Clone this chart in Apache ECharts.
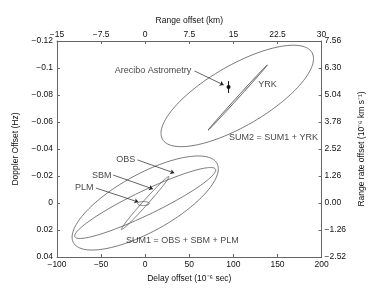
<!DOCTYPE html>
<html><head><meta charset="utf-8">
<script src="https://cdn.jsdelivr.net/npm/echarts@6/dist/echarts.min.js"></script>
<style>html,body{margin:0;padding:0;background:#fff}#c{width:374px;height:308px}</style>
</head><body><div id="c"></div>
<script>
// ---- axis ticks ----
const delayTicks = [-100, -50, 0, 50, 100, 150, 200];
const rangeTicks = [-15, -7.5, 0, 7.5, 15, 22.5, 30];
const dopplerTicks = [-0.12, -0.1, -0.08, -0.06, -0.04, -0.02, 0, 0.02, 0.04];
const rateTicks = [-2.52, -1.26, 0.00, 1.26, 2.52, 3.78, 5.04, 6.30, 7.56];

// ---- ellipses (center, semi-axis vectors, data units) ----
const ellipseNames = ['SUM2', 'YRK', 'SUM1', 'OBS', 'SBM', 'PLM'];
const ellipseCenterDelay = [104.4, 104.9, 0, 0, 0, -2];
const ellipseCenterDoppler = [-0.0793, -0.0781, 0, 0, 0, 0.0004];
const ellipseMajorDelay = [85.0, 33.5, 81.5, 79.7, 26.9, 6.6];
const ellipseMajorDoppler = [-0.0318, -0.0241, -0.0292, -0.0250, -0.0196, 0];
const ellipseMinorDelay = [15.8, 0.6, 15.0, 5.6, 2.0, 0];
const ellipseMinorDoppler = [0.0200, 0.0004, 0.0190, 0.0081, 0.00126, 0.0015];

// ---- Arecibo astrometry point ----
const astroDelay = [94.5];
const astroDoppler = [-0.0859];
const astroDopplerErr = [0.0044];

// ---- annotations ----
const noteTexts = ['Arecibo Astrometry', 'YRK', 'SUM2 = SUM1 + YRK', 'OBS', 'SBM', 'PLM', 'SUM1 = OBS + SBM + PLM'];
const noteDelay = [53.8, 126.5, 93.4, -9.5, -36.5, -57.0, -23.5];
const noteDoppler = [-0.0985, -0.0874, -0.0482, -0.0319, -0.0207, -0.0111, 0.0281];
const noteAlignRight = [true, false, false, true, true, true, false];
const arrowFromDelay = [56.0, -8.8, -36.3, -56.0];
const arrowFromDoppler = [-0.0978, -0.0319, -0.0207, -0.0111];
const arrowToDelay = [89.0, 33.0, 8.8, -7.7];
const arrowToDoppler = [-0.0874, -0.0222, -0.0104, -0.0007];

const MINUS = '\u2212';
function fmt(v, d) {
  let s = d == null ? String(+v.toFixed(6)) : v.toFixed(d);
  if (/^-0(\.0+)?$/.test(s)) s = s.slice(1);
  return s.replace('-', MINUS);
}
const txt = '#111';
const axisCol = '#666';
const font = 'Liberation Sans, Arial, sans-serif';
function axisBase(extra) {
  return Object.assign({
    type: 'value',
    splitLine: { show: false },
    axisLine: { show: true, onZero: false, lineStyle: { color: axisCol, width: 1 } },
    axisTick: { show: true, inside: true, length: 3, lineStyle: { color: axisCol } },
    nameTextStyle: { color: txt, fontSize: 8.5, fontFamily: font },
    nameLocation: 'middle'
  }, extra);
}
const lbl = (margin, f) => ({ color: txt, fontSize: 8.5, fontFamily: font, margin: margin, formatter: f, showMinLabel: true, showMaxLabel: true });

const ellipseData = ellipseNames.map((n, i) => ({
  name: n,
  value: [ellipseCenterDelay[i], ellipseCenterDoppler[i], ellipseMajorDelay[i], ellipseMajorDoppler[i], ellipseMinorDelay[i], ellipseMinorDoppler[i]]
}));

const chart = echarts.init(document.getElementById('c'), null, { renderer: 'canvas' });
chart.setOption({
  animation: false,
  backgroundColor: '#fff',
  grid: { left: 57, right: 44, top: 41, bottom: 51 },
  xAxis: [
    axisBase({ position: 'bottom', min: delayTicks[0], max: delayTicks[delayTicks.length - 1], interval: 50,
      name: 'Delay offset (10\u207B\u2076 sec)', nameGap: 15, axisLabel: lbl(3, v => fmt(v)) }),
    axisBase({ position: 'top', min: rangeTicks[0], max: rangeTicks[rangeTicks.length - 1], interval: 7.5,
      name: 'Range offset (km)', nameGap: 15, axisLabel: lbl(2, v => fmt(v)) })
  ],
  yAxis: [
    axisBase({ position: 'left', inverse: true, min: dopplerTicks[0], max: dopplerTicks[dopplerTicks.length - 1], interval: 0.02,
      name: 'Doppler Offset (Hz)', nameGap: 30, axisLabel: lbl(4, v => fmt(v)) }),
    axisBase({ position: 'right', min: rateTicks[0], max: rateTicks[rateTicks.length - 1], interval: 1.26,
      name: 'Range rate offset (10\u207B\u2076 km s\u207B\u00B9)', nameGap: 34, axisLabel: lbl(3, v => fmt(v, 2)) })
  ],
  series: [
    {
      type: 'custom', xAxisIndex: 0, yAxisIndex: 0, data: ellipseData, clip: true, silent: true,
      renderItem: function (params, api) {
        const cx = api.value(0), cy = api.value(1), ux = api.value(2), uy = api.value(3), vx = api.value(4), vy = api.value(5);
        const pts = [];
        const N = 180;
        for (let k = 0; k <= N; k++) {
          const t = k / N * 2 * Math.PI;
          pts.push(api.coord([cx + Math.cos(t) * ux + Math.sin(t) * vx, cy + Math.cos(t) * uy + Math.sin(t) * vy]));
        }
        const thin = params.dataIndex === 1;
        return { type: 'polyline', shape: { points: pts }, style: { stroke: thin ? '#444' : '#555', fill: null, lineWidth: thin ? 0.9 : 0.8 } };
      }
    },
    {
      type: 'custom', xAxisIndex: 0, yAxisIndex: 0, silent: true,
      data: astroDelay.map((d, i) => [d, astroDoppler[i], astroDopplerErr[i]]),
      renderItem: function (params, api) {
        const x = api.value(0), y = api.value(1), e = api.value(2);
        const p1 = api.coord([x, y - e]), p2 = api.coord([x, y + e]), c = api.coord([x, y]);
        return { type: 'group', children: [
          { type: 'line', shape: { x1: p1[0], y1: p1[1], x2: p2[0], y2: p2[1] }, style: { stroke: '#111', lineWidth: 1 } },
          { type: 'circle', shape: { cx: c[0], cy: c[1], r: 2 }, style: { fill: '#111' } }
        ] };
      }
    },
    {
      type: 'lines', coordinateSystem: 'cartesian2d', xAxisIndex: 0, yAxisIndex: 0, silent: true,
      symbol: ['none', 'arrow'], symbolSize: 4,
      lineStyle: { color: '#222', width: 0.7, opacity: 1 },
      data: arrowFromDelay.map((d, i) => ({ coords: [[d, arrowFromDoppler[i]], [arrowToDelay[i], arrowToDoppler[i]]] }))
    },
    {
      type: 'scatter', xAxisIndex: 0, yAxisIndex: 0, silent: true, symbolSize: 1,
      itemStyle: { color: 'rgba(0,0,0,0)' },
      labelLayout: { hideOverlap: false },
      data: noteTexts.map((t, i) => ({
        value: [noteDelay[i], noteDoppler[i]],
        label: { show: true, formatter: t, position: noteAlignRight[i] ? 'left' : 'right', distance: 1,
          color: txt, fontSize: 9, fontFamily: font }
      }))
    }
  ]
});
</script></body></html>
